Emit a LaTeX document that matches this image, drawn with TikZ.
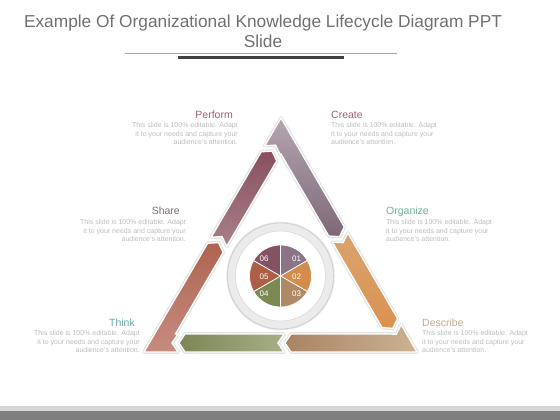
\documentclass[tikz,border=0pt]{standalone}
\usepackage{fontspec}
\setmainfont{Liberation Sans}
\usetikzlibrary{calc}
\definecolor{crA}{HTML}{B3A5AF}\definecolor{crB}{HTML}{7E6878}
\definecolor{orA}{HTML}{D9A36F}\definecolor{orB}{HTML}{DB9150}
\definecolor{deL}{HTML}{A88463}\definecolor{deR}{HTML}{CCB292}
\definecolor{thL}{HTML}{7B8653}\definecolor{thR}{HTML}{A8AF88}
\definecolor{shT}{HTML}{AE6450}\definecolor{shB}{HTML}{C68C80}
\definecolor{peT}{HTML}{89505F}\definecolor{peB}{HTML}{A9808A}
\definecolor{p01}{HTML}{8A7486}\definecolor{p02}{HTML}{D38C4C}
\definecolor{p03}{HTML}{AF8865}\definecolor{p04}{HTML}{7C8953}
\definecolor{p05}{HTML}{AC5F46}\definecolor{p06}{HTML}{855262}
\definecolor{cPerform}{HTML}{A0606E}\definecolor{cCreate}{HTML}{A65E7A}
\definecolor{cShare}{HTML}{7D6B7A}\definecolor{cOrganize}{HTML}{6FAE9E}
\definecolor{cThink}{HTML}{62A8A6}\definecolor{cDescribe}{HTML}{C4AC8E}
\definecolor{bodygray}{HTML}{BDBDBD}\definecolor{titlegray}{HTML}{707070}
\definecolor{barlight}{HTML}{D6D6D6}\definecolor{bardark}{HTML}{7F7F7F}
\begin{document}
\begin{tikzpicture}[x=1pt,y=-1pt,
  piece/.style={draw=white,line width=1.3pt,line join=miter},
  glow/.style={draw=black!11,line width=3.6pt,line join=round},
  bodytext/.style={font=\fontsize{7}{8.4}\selectfont,text=bodygray,inner sep=0pt},
  headtext/.style={font=\fontsize{10.5}{12}\selectfont,inner sep=0pt},
  numtext/.style={font=\fontsize{8}{9}\selectfont,text=white,inner sep=0pt},
  titletext/.style={font=\fontsize{17.3}{20}\selectfont,text=titlegray,inner sep=0pt}]
\useasboundingbox (0,0) rectangle (560,420);
\fill[white] (0,0) rectangle (560,420);
% title
\node[titletext,anchor=base] (t1) at (263,28) {Example Of Organizational Knowledge Lifecycle Diagram PPT};
\node[titletext,anchor=base] (t2) at (263,48) {Slide};
\draw[gray!70,line width=0.8pt] (125,53) -- (397,53);
\draw[black!75,line width=2.4pt] (178,57.5) -- (344,57.5);
% bottom bars
\fill[barlight] (0,406) rectangle (560,411);
\fill[bardark] (0,411) rectangle (560,420);
% geometry
\coordinate (A) at (281,118);
\coordinate (B) at (417,352);
\coordinate (C) at (144,352);
\coordinate (Ai) at (281,154);
\coordinate (Bi) at (385.8,334);
\coordinate (Ci) at (175.4,334);
\coordinate (u1) at (0.5025,0.8646);  \coordinate (n1) at (-0.8646,0.5025);
\coordinate (u2) at (-1,0);           \coordinate (n2) at (0,-1);
\coordinate (u3) at (0.5052,-0.8630); \coordinate (n3) at (0.8630,0.5052);
\foreach \k/\S in {1/A,2/B,3/C}{
  \foreach \s in {126,133,232,239}{
    \coordinate (o\k-\s) at ($(\S)+\s*(u\k)$);
    \coordinate (i\k-\s) at ($(\S)+\s*(u\k)+18*(n\k)$);
  }
  \foreach \s in {132,139,238,245}{
    \coordinate (c\k-\s) at ($(\S)+\s*(u\k)+9*(n\k)$);
  }
}
% glow
\draw[glow] (A) -- (o1-126) -- (c1-132) -- (i1-126) -- (Ai) -- (i3-239) -- (c3-245) -- (o3-239) -- cycle;
\draw[glow] (o1-133) -- (c1-139) -- (i1-133) -- (i1-232) -- (c1-238) -- (o1-232) -- cycle;
\draw[glow] (B) -- (o1-239) -- (c1-245) -- (i1-239) -- (Bi) -- (i2-126) -- (c2-132) -- (o2-126) -- cycle;
\draw[glow] (o2-133) -- (c2-139) -- (i2-133) -- (i2-232) -- (c2-238) -- (o2-232) -- cycle;
\draw[glow] (C) -- (o2-239) -- (c2-245) -- (i2-239) -- (Ci) -- (i3-126) -- (c3-132) -- (o3-126) -- cycle;
\draw[glow] (o3-133) -- (c3-139) -- (i3-133) -- (i3-232) -- (c3-238) -- (o3-232) -- cycle;
% pieces
\shadedraw[piece,top color=crA,bottom color=crB] (A) -- (o1-126) -- (c1-132) -- (i1-126) -- (Ai) -- (i3-239) -- (c3-245) -- (o3-239) -- cycle;
\shadedraw[piece,top color=orA,bottom color=orB] (o1-133) -- (c1-139) -- (i1-133) -- (i1-232) -- (c1-238) -- (o1-232) -- cycle;
\shadedraw[piece,left color=deL,right color=deR] (B) -- (o1-239) -- (c1-245) -- (i1-239) -- (Bi) -- (i2-126) -- (c2-132) -- (o2-126) -- cycle;
\shadedraw[piece,left color=thL,right color=thR] (o2-133) -- (c2-139) -- (i2-133) -- (i2-232) -- (c2-238) -- (o2-232) -- cycle;
\shadedraw[piece,top color=shT,bottom color=shB] (C) -- (o2-239) -- (c2-245) -- (i2-239) -- (Ci) -- (i3-126) -- (c3-132) -- (o3-126) -- cycle;
\shadedraw[piece,top color=peT,bottom color=peB] (o3-133) -- (c3-139) -- (i3-133) -- (i3-232) -- (c3-238) -- (o3-232) -- cycle;
% ring and pie
\coordinate (pc) at (280.5,276);
\draw[black!10,line width=2.5pt] (pc) circle (53);
\draw[gray!40,line width=0.6pt,fill=black!8] (pc) circle (53);
\draw[gray!30,line width=0.6pt,fill=white] (pc) circle (45);
\foreach \a/\b/\col in {-90/-30/p01,-30/30/p02,30/90/p03,90/150/p04,150/210/p05,210/270/p06}{
  \filldraw[fill=\col,draw=white,line width=0.7pt] (pc) -- ++(\a:31) arc[start angle=\a,end angle=\b,radius=31] -- cycle;
}
\node[numtext] (n01) at (296.5,258.5) {01};
\node[numtext] (n02) at (296.5,276.5) {02};
\node[numtext] (n03) at (296.5,294) {03};
\node[numtext] (n04) at (264,294) {04};
\node[numtext] (n05) at (264,276.5) {05};
\node[numtext] (n06) at (264,258.5) {06};
% labels
\node[headtext,text=cPerform,anchor=base east] (hPerform) at (233,118) {Perform};
\node[bodytext,align=right,anchor=north east] (bPerform) at (238,122.4) {This slide is 100\% editable. Adapt\\it to your needs and capture your\\audience's attention.};
\node[headtext,text=cCreate,anchor=base west] (hCreate) at (331,118) {Create};
\node[bodytext,align=left,anchor=north west] (bCreate) at (331,122.4) {This slide is 100\% editable. Adapt\\it to your needs and capture your\\audience's attention.};
\node[headtext,text=cShare,anchor=base east] (hShare) at (180,214) {Share};
\node[bodytext,align=right,anchor=north east] (bShare) at (186,219.5) {This slide is 100\% editable. Adapt\\it to your needs and capture your\\audience's attention.};
\node[headtext,text=cOrganize,anchor=base west] (hOrganize) at (386,214) {Organize};
\node[bodytext,align=left,anchor=north west] (bOrganize) at (386,219.5) {This slide is 100\% editable. Adapt\\it to your needs and capture your\\audience's attention.};
\node[headtext,text=cThink,anchor=base east] (hThink) at (135,326) {Think};
\node[bodytext,align=right,anchor=north east] (bThink) at (140,330.5) {This slide is 100\% editable. Adapt\\it to your needs and capture your\\audience's attention.};
\node[headtext,text=cDescribe,anchor=base west] (hDescribe) at (422,326) {Describe};
\node[bodytext,align=left,anchor=north west] (bDescribe) at (422,330.5) {This slide is 100\% editable. Adapt\\it to your needs and capture your\\audience's attention.};
\end{tikzpicture}
\end{document}
